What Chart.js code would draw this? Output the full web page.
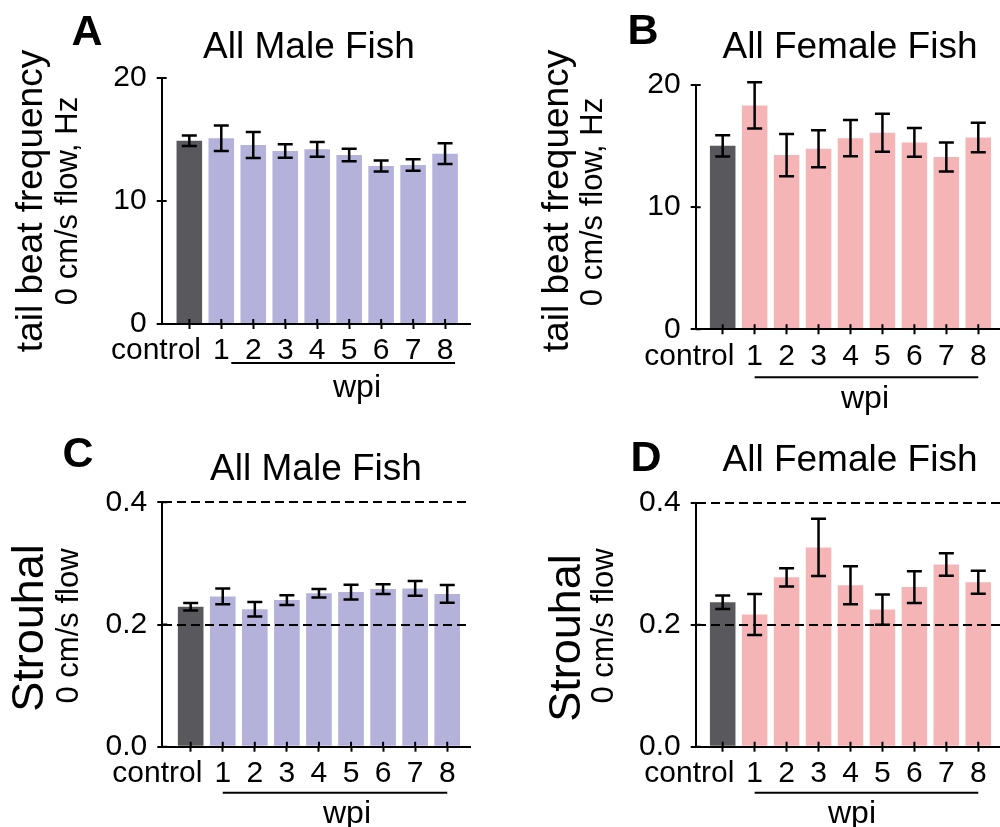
<!DOCTYPE html>
<html>
<head>
<meta charset="utf-8">
<script src="https://cdn.jsdelivr.net/npm/chart.js@4.4.1/dist/chart.umd.min.js"></script>
<style>
  body { margin: 0; background: #fff; }
  #fig { position: relative; width: 1000px; height: 827px; overflow: hidden;
         font-family: "Liberation Sans", Arial, sans-serif; color: #000; }
  .panel { position: absolute; }
  .txt { position: absolute; white-space: nowrap; line-height: 1; transform: translate(-50%, -50%); }
  .rot { transform: translate(-50%, -50%) rotate(-90deg); }
  .letter { font-weight: bold; font-size: 43px; }
  .title { font-size: 37px; }
  .ymain { font-size: 37px; }
  .ybig { font-size: 45px; }
  .ysub { font-size: 31px; }
  .wpi { font-size: 32px; }
</style>
</head>
<body>
<div id="fig">
  <canvas id="cA" class="panel" width="500" height="413" style="left:0;top:0"></canvas>
  <canvas id="cB" class="panel" width="500" height="413" style="left:500px;top:0"></canvas>
  <canvas id="cC" class="panel" width="500" height="414" style="left:0;top:413px"></canvas>
  <canvas id="cD" class="panel" width="500" height="414" style="left:500px;top:413px"></canvas>

  <div class="txt letter" style="left:87px;top:30px">A</div>
  <div class="txt letter" style="left:643px;top:29px">B</div>
  <div class="txt letter" style="left:78px;top:452px">C</div>
  <div class="txt letter" style="left:646px;top:456px">D</div>

  <div class="txt title" style="left:309px;top:45px">All Male Fish</div>
  <div class="txt title" style="left:850px;top:45px">All Female Fish</div>
  <div class="txt title" style="left:316px;top:467px">All Male Fish</div>
  <div class="txt title" style="left:850px;top:458px">All Female Fish</div>

  <div class="txt rot ymain" style="left:29px;top:201px">tail beat frequency</div>
  <div class="txt rot ysub" style="left:66px;top:201px">0 cm/s flow, Hz</div>
  <div class="txt rot ymain" style="left:555px;top:201px">tail beat frequency</div>
  <div class="txt rot ysub" style="left:591px;top:202px">0 cm/s flow, Hz</div>
  <div class="txt rot ybig" style="left:27px;top:628px">Strouhal</div>
  <div class="txt rot ysub" style="left:67px;top:626px">0 cm/s flow</div>
  <div class="txt rot ybig" style="left:564px;top:638px">Strouhal</div>
  <div class="txt rot ysub" style="left:602px;top:626px">0 cm/s flow</div>

  <div class="txt wpi" style="left:357px;top:386px">wpi</div>
  <div class="txt wpi" style="left:865px;top:397px">wpi</div>
  <div class="txt wpi" style="left:347px;top:812px">wpi</div>
  <div class="txt wpi" style="left:852px;top:812px">wpi</div>
</div>

<script>
// categories: control, then weeks post injection
const categories = ["control", "1", "2", "3", "4", "5", "6", "7", "8"];

// tail beat frequency (Hz), mean and error
const maleTbfMean = [14.9, 15.1, 14.55, 14.07, 14.2, 13.74, 12.85, 12.93, 13.85];
const maleTbfErr = [0.43, 1.03, 1.05, 0.55, 0.6, 0.51, 0.45, 0.47, 0.84];
const femaleTbfMean = [15.02, 18.33, 14.26, 14.78, 15.65, 16.09, 15.3, 14.1, 15.7];
const femaleTbfErr = [0.87, 1.9, 1.73, 1.52, 1.49, 1.56, 1.17, 1.19, 1.21];

// Strouhal number, mean and error
const maleStMean = [0.229, 0.246, 0.225, 0.24, 0.251, 0.253, 0.258, 0.259, 0.25];
const maleStErr = [0.006, 0.013, 0.012, 0.008, 0.007, 0.012, 0.008, 0.012, 0.0145];
const femaleStMean = [0.237, 0.217, 0.278, 0.327, 0.265, 0.225, 0.262, 0.299, 0.27];
const femaleStErr = [0.011, 0.0335, 0.015, 0.047, 0.031, 0.025, 0.026, 0.0186, 0.019];

// dashed reference levels on the Strouhal panels
const strouhalRefLines = [0.2, 0.4];

const CONTROL_COLOR = "#59585d";
const MALE_COLOR = "#b4b2da";
const FEMALE_COLOR = "#f5b5b6";

Chart.defaults.font.family = "'Liberation Sans', Arial, sans-serif";
Chart.defaults.color = "#000";

// mean ± error whiskers, from the dataset's own values
const errorBarsPlugin = {
  id: "errorBars",
  afterDatasetsDraw(chart) {
    const ds = chart.data.datasets[0];
    const meta = chart.getDatasetMeta(0);
    const ys = chart.scales.y;
    const ctx = chart.ctx;
    ctx.save();
    ctx.strokeStyle = "#000";
    ctx.lineWidth = 2.5;
    meta.data.forEach((bar, i) => {
      const m = ds.data[i].y;
      const e = ds.errors[i];
      const yHi = ys.getPixelForValue(m + e);
      const yLo = ys.getPixelForValue(m - e);
      ctx.beginPath();
      ctx.moveTo(bar.x, yHi);
      ctx.lineTo(bar.x, yLo);
      ctx.moveTo(bar.x - 7.5, yHi);
      ctx.lineTo(bar.x + 7.5, yHi);
      ctx.moveTo(bar.x - 7.5, yLo);
      ctx.lineTo(bar.x + 7.5, yLo);
      ctx.stroke();
    });
    ctx.restore();
  },
};

// tick marks that also poke into the plot area, plus the "wpi" bracket line
const axisExtrasPlugin = {
  id: "axisExtras",
  afterDraw(chart, args, opts) {
    const { ctx, chartArea } = chart;
    const xs = chart.scales.x;
    const ys = chart.scales.y;
    ctx.save();
    ctx.strokeStyle = "#000";
    ctx.lineWidth = 2;
    ctx.beginPath();
    xs.ticks.forEach((t) => {
      const x = xs.getPixelForValue(t.value);
      ctx.moveTo(x, chartArea.bottom);
      ctx.lineTo(x, chartArea.bottom - 5);
    });
    ys.ticks.forEach((t) => {
      const y = ys.getPixelForValue(t.value);
      ctx.moveTo(chartArea.left, y);
      ctx.lineTo(chartArea.left + 5, y);
    });
    ctx.stroke();

    const y = chartArea.bottom + opts.dy;
    ctx.beginPath();
    ctx.moveTo(xs.getPixelForValue(1) + opts.dx1, y);
    ctx.lineTo(xs.getPixelForValue(8) + opts.dx2, y);
    ctx.stroke();
    ctx.restore();
  },
};

function makePanel(p) {
  const colors = categories.map((_, i) => (i === 0 ? CONTROL_COLOR : p.color));
  return new Chart(document.getElementById(p.id), {
    type: "bar",
    data: {
      datasets: [
        {
          data: p.mean.map((v, i) => ({ x: i, y: v })),
          errors: p.err,
          backgroundColor: colors,
          borderWidth: 0,
          barPercentage: 0.8,
          categoryPercentage: 1,
        },
      ],
    },
    options: {
      responsive: false,
      animation: false,
      devicePixelRatio: 1,
      layout: { padding: p.pad },
      plugins: {
        legend: { display: false },
        tooltip: { enabled: false },
        axisExtras: p.wpi,
      },
      scales: {
        x: {
          type: "linear",
          offset: false,
          min: p.xMin,
          max: p.xMax,
          afterFit: (s) => { s.height = 60; },
          ticks: {
            stepSize: 1,
            includeBounds: false,
            autoSkip: false,
            maxRotation: 0,
            padding: 4,
            font: { size: 30 },
            // the control label sits left of its tick in the original
            callback: (v) => (v === 0 ? categories[0] + "        " : categories[v]),
          },
          grid: {
            offset: false,
            drawOnChartArea: false,
            drawTicks: true,
            tickLength: 5,
            tickWidth: 2,
            tickColor: "#000",
            z: 1,
          },
          border: { display: true, color: "#000", width: 2, z: 1 },
        },
        y: {
          min: 0,
          max: p.yMax,
          afterFit: (s) => { s.width = p.yWidth; },
          ticks: {
            stepSize: p.yStep,
            padding: 10,
            font: { size: 30 },
            callback: (v) => (p.dashed ? v.toFixed(1) : String(v)),
          },
          grid: {
            drawOnChartArea: p.dashed,
            color: (c) => (p.dashed && strouhalRefLines.includes(c.tick && c.tick.value) ? "#000" : "rgba(0,0,0,0)"),
            lineWidth: 2,
            drawTicks: true,
            tickLength: 5,
            tickWidth: 2,
            tickColor: "#000",
            z: 1,
          },
          border: { display: true, color: "#000", width: 2, dash: [9, 5], z: 1 },
        },
      },
    },
    plugins: [errorBarsPlugin, axisExtrasPlugin],
  });
}

makePanel({
  id: "cA", mean: maleTbfMean, err: maleTbfErr, color: MALE_COLOR,
  yMax: 20, yStep: 10, dashed: false, yWidth: 161.7,
  pad: { left: 0, top: 78, right: 30, bottom: 29 },
  xMin: -0.864, xMax: 8.78,
  wpi: { dy: 39, dx1: 10, dx2: 10 },
});
makePanel({
  id: "cB", mean: femaleTbfMean, err: femaleTbfErr, color: FEMALE_COLOR,
  yMax: 20, yStep: 10, dashed: false, yWidth: 195.7,
  pad: { left: 0, top: 85, right: 0, bottom: 23.7 },
  xMin: -0.845, xMax: 8.68,
  wpi: { dy: 48, dx1: 0, dx2: 0 },
});
makePanel({
  id: "cC", mean: maleStMean, err: maleStErr, color: MALE_COLOR,
  yMax: 0.4, yStep: 0.2, dashed: true, yWidth: 162.3,
  pad: { left: 0, top: 89.3, right: 30, bottom: 20.3 },
  xMin: -0.885, xMax: 8.71,
  wpi: { dy: 46, dx1: 0, dx2: 0 },
});
makePanel({
  id: "cD", mean: femaleStMean, err: femaleStErr, color: FEMALE_COLOR,
  yMax: 0.4, yStep: 0.2, dashed: true, yWidth: 195.7,
  pad: { left: 0, top: 90, right: 0, bottom: 20.3 },
  xMin: -0.845, xMax: 8.68,
  wpi: { dy: 46, dx1: 0, dx2: 0 },
});
</script>
</body>
</html>
